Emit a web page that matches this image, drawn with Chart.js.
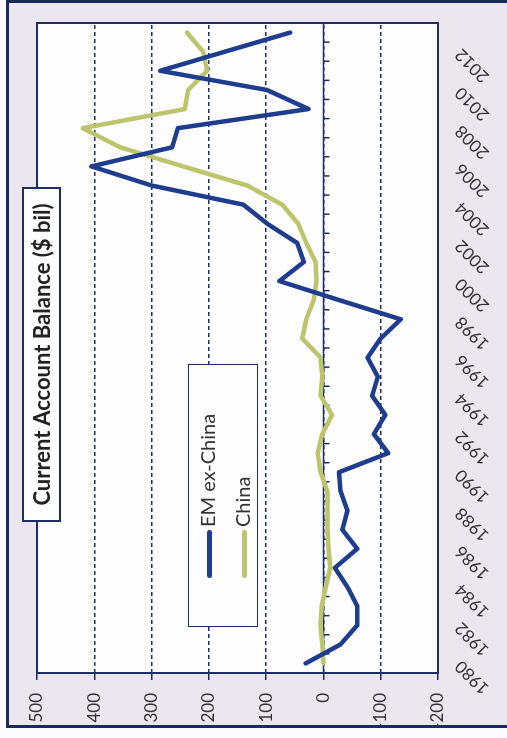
<!DOCTYPE html>
<html>
<head>
<meta charset="utf-8">
<title>Current Account Balance</title>
<script src="https://cdn.jsdelivr.net/npm/chart.js@4.4.1/dist/chart.umd.min.js"></script>
<style>
  html, body { margin: 0; padding: 0; background: #fbfafc; overflow: hidden; }
  #wrap {
    position: absolute; left: 0; top: 0;
    width: 738px; height: 507px;
    transform-origin: 0 0;
    transform: translate(0, 738px) rotate(-90deg);
  }
  #frame {
    position: absolute; left: 10px; top: 6px; width: 728px; height: 600px;
    box-sizing: border-box; border: 3px solid #1b2b5c; background: #ece6ef;
  }
  #chart { position: absolute; left: 0; top: 0; }
  #title {
    position: absolute; left: 216px; top: 22px; width: 335px; height: 39px;
    box-sizing: border-box; border: 2px solid #1f2d63; background: #fdfdfe;
    font: bold 22px Lato, sans-serif; color: #222; text-align: center; line-height: 35px;
    white-space: nowrap;
  }
  #legend {
    position: absolute; left: 111px; top: 188px; width: 263px; height: 70px;
    box-sizing: border-box; border: 1.5px solid #1f2d63; background: #fdfdfe;
    font: 20px Lato, sans-serif; color: #333;
  }
  .row { position: absolute; left: 48px; height: 30px; line-height: 30px; white-space: nowrap; }
  .swatch { display: inline-block; width: 48px; height: 5px; border-radius: 3px; vertical-align: middle; margin-right: 3px; }
</style>
</head>
<body>
<div id="wrap">
  <div id="frame"></div>
  <canvas id="chart" width="738" height="507"></canvas>
  <div id="title">Current Account Balance ($ bil)</div>
  <div id="legend"></div>
</div>
<script>
// ---- Data ----
const years = ["1980", "1981", "1982", "1983", "1984", "1985", "1986", "1987", "1988", "1989",
  "1990", "1991", "1992", "1993", "1994", "1995", "1996", "1997", "1998", "1999",
  "2000", "2001", "2002", "2003", "2004", "2005", "2006", "2007", "2008", "2009",
  "2010", "2011", "2012", "2013"];
const emExChina = [31, -30, -59, -59, -42, -20, -59, -33, -42, -30,
  -27, -113, -88, -108, -85, -95, -77, -100, -135, -28,
  77, 34, 46, 98, 140, 300, 405, 264, 254, 26,
  99, 285, 172, 58];
const china = [0, 2, 5, 3, -4, -12, -9, -7, -7, -7,
  5, 10, 2, -15, 5, 2, 5, 37, 30, 17,
  12, 14, 30, 44, 72, 133, 245, 355, 420, 242,
  236, 203, 210, 238];
const seriesNames = ["EM ex-China", "China"];
const seriesColors = ["#1e3d8e", "#bcc46c"];

const navy = "#1f2d63";
const tickFont = { family: "Lato", size: 17 };

// ---- Plot frame + zero axis with category tick marks ----
const frame = {
  id: "frame",
  beforeDraw(chart) {
    const a = chart.chartArea, ctx = chart.ctx;
    ctx.save();
    ctx.fillStyle = "#fdfdfe";
    ctx.fillRect(a.left, a.top, a.right - a.left, a.bottom - a.top);
    ctx.restore();
  },
  beforeDatasetsDraw(chart) {
    const a = chart.chartArea, ctx = chart.ctx;
    const x = chart.scales.x, y = chart.scales.y;
    const y0 = y.getPixelForValue(0);
    ctx.save();
    ctx.strokeStyle = navy;
    ctx.lineWidth = 1.5;
    ctx.beginPath();
    ctx.moveTo(a.left, y0);
    ctx.lineTo(a.right, y0);
    for (let i = 0; i < years.length - 1; i++) {
      const bx = (x.getPixelForValue(i) + x.getPixelForValue(i + 1)) / 2;
      ctx.moveTo(bx, y0);
      ctx.lineTo(bx, y0 + 6);
    }
    ctx.stroke();
    ctx.lineWidth = 2;
    ctx.strokeRect(a.left, a.top, a.right - a.left, a.bottom - a.top);
    ctx.restore();
  }
};

// ---- Chart ----
new Chart(document.getElementById("chart"), {
  type: "line",
  data: {
    labels: years,
    datasets: [
      { label: seriesNames[0], data: emExChina, borderColor: seriesColors[0] },
      { label: seriesNames[1], data: china, borderColor: seriesColors[1] }
    ]
  },
  options: {
    responsive: false,
    animation: false,
    layout: { padding: { top: 37, right: 23, left: 0, bottom: 0 } },
    elements: {
      point: { radius: 0 },
      line: { borderWidth: 4.5, tension: 0, borderJoinStyle: "round", borderCapStyle: "round" }
    },
    plugins: { legend: { display: false }, tooltip: { enabled: false } },
    scales: {
      x: {
        offset: true,
        grid: { display: false, drawTicks: false },
        border: { display: false },
        ticks: {
          autoSkip: false, minRotation: 45, maxRotation: 45, padding: 13,
          font: tickFont, color: "#333",
          callback: (v, i) => (i % 2 === 0 ? years[i] : "")
        },
        afterFit: s => { s.height = 69; }
      },
      y: {
        min: -200, max: 500,
        ticks: { stepSize: 100, padding: 13, font: tickFont, color: "#333" },
        grid: { color: navy, lineWidth: 1.5, tickLength: 7 },
        border: { display: false, dash: [4, 3] },
        afterFit: s => { s.width = 65; }
      }
    }
  },
  plugins: [frame]
});

// ---- Legend ----
const legend = document.getElementById("legend");
seriesNames.forEach((name, i) => {
  const row = document.createElement("div");
  row.className = "row";
  row.style.top = (3 + i * 35) + "px";
  row.innerHTML = '<span class="swatch" style="background:' + seriesColors[i] + '"></span>' + name;
  legend.appendChild(row);
});
</script>
</body>
</html>
